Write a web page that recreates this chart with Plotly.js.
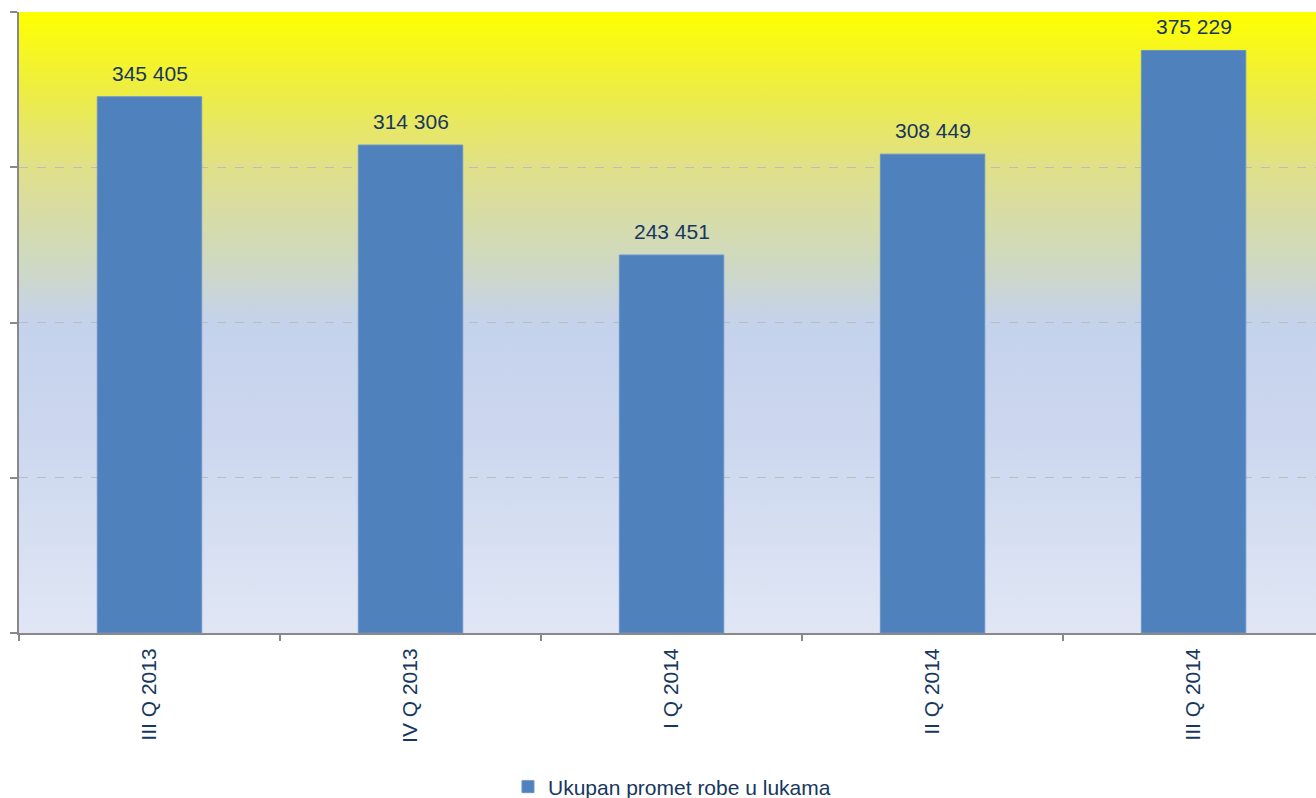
<!DOCTYPE html>
<html>
<head>
<meta charset="utf-8">
<script src="https://cdn.plot.ly/plotly-3.0.1.min.js"></script>
<style>
  html, body { margin: 0; padding: 0; background: #ffffff; overflow: hidden; }
  #wrap { position: relative; width: 1316px; height: 798px; }
  #bg { position: absolute; left: 19px; top: 12px; width: 1297px; height: 621px;
        background: linear-gradient(to bottom, #FFFF00 0%, #EEEE40 12%, #E0E08A 25%, #CFD9C0 40%, #C5D2EC 50%, #CDD8EF 70%, #E0E6F4 100%); z-index: 0; }
  #chart { position: absolute; left: 0; top: 0; width: 1316px; height: 798px; z-index: 1; }
</style>
</head>
<body>
<div id="wrap">
  <div id="bg"></div>
  <div id="chart"></div>
</div>
<script>
const categories = ["III Q 2013", "IV Q 2013", "I Q 2014", "II Q 2014", "III Q 2014"];
const values = [345405, 314306, 243451, 308449, 375229];
const valueLabels = ["345 405", "314 306", "243 451", "308 449", "375 229"];
const seriesName = "Ukupan promet robe u lukama";

const textColor = "#17375E";
const font = { family: "Liberation Sans, Arial, sans-serif", size: 21, color: textColor };

const trace = {
  type: "bar",
  x: categories,
  y: values,
  name: seriesName,
  marker: { color: "#4F81BD", line: { color: "#6A93C9", width: 1 } },
  hoverinfo: "x+y",
  showlegend: true
};

const annotations = categories.map((c, i) => ({
  x: c, y: values[i], xref: "x", yref: "y",
  text: valueLabels[i], showarrow: false,
  yanchor: "bottom", xanchor: "center", yshift: 10,
  font: font
}));

const layout = {
  width: 1316, height: 798,
  margin: { l: 19, r: 0, t: 12, b: 165, autoexpand: false },
  paper_bgcolor: "rgba(0,0,0,0)",
  plot_bgcolor: "rgba(0,0,0,0)",
  font: font,
  bargap: 0.6,
  showlegend: true,
  legend: {
    orientation: "h", x: 0.377, xanchor: "left", y: -0.248, yanchor: "middle",
    font: font, bgcolor: "rgba(0,0,0,0)"
  },
  xaxis: {
    type: "category",
    range: [-0.5, 4.469],
    automargin: false,
    showline: true, linecolor: "#898989", linewidth: 2,
    ticks: "outside", tickson: "boundaries", ticklen: 6, tickwidth: 1.5, tickcolor: "#898989",
    tickangle: -90, tickfont: font,
    showgrid: false, zeroline: false,
    ticklabelstandoff: 5
  },
  yaxis: {
    range: [0, 400000], dtick: 100000, tick0: 0,
    automargin: false,
    showticklabels: false,
    showline: true, linecolor: "#898989", linewidth: 2,
    ticks: "outside", ticklen: 7, tickwidth: 2, tickcolor: "#898989",
    showgrid: true, gridcolor: "#BDBDBD", gridwidth: 1, griddash: "dash",
    zeroline: false
  },
  annotations: annotations
};

Plotly.newPlot("chart", [trace], layout, { displayModeBar: false, staticPlot: true });
</script>
</body>
</html>
